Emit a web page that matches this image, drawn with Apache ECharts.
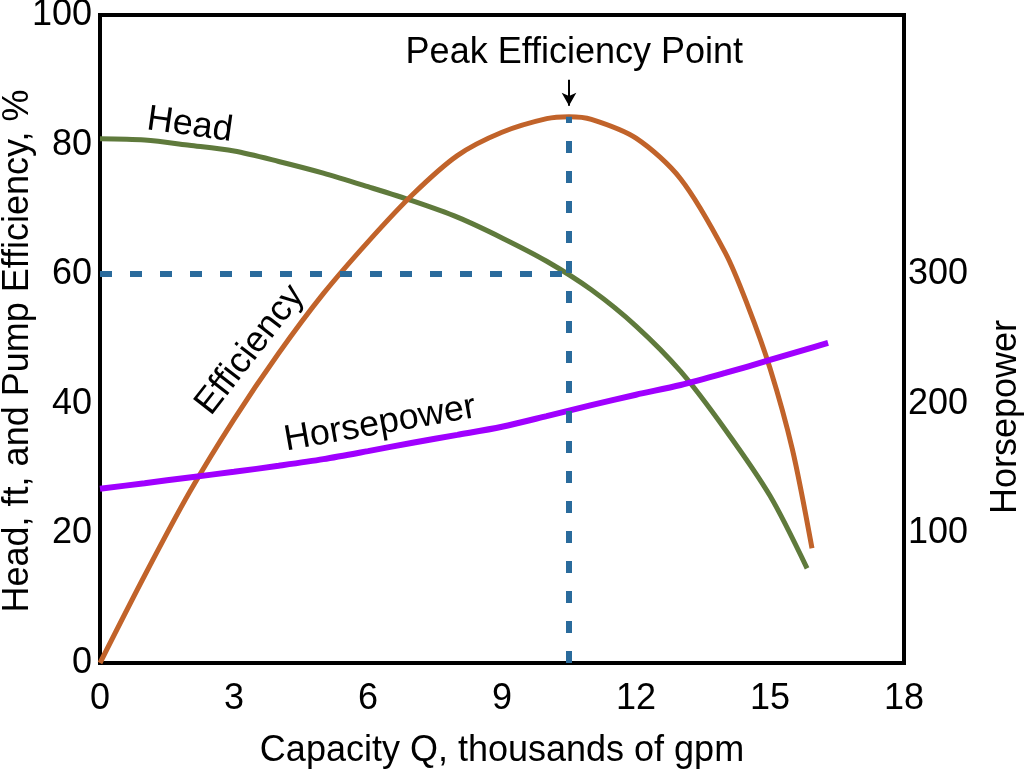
<!DOCTYPE html>
<html>
<head>
<meta charset="utf-8">
<script src="https://cdn.jsdelivr.net/npm/echarts@6/dist/echarts.min.js"></script>
<style>
html,body{margin:0;padding:0;background:#fff;}
#c{width:1024px;height:774px;}
</style>
</head>
<body>
<div id="c"></div>
<script>
// Capacity Q (thousands of gpm) and values
var headQ = [0, 1, 2, 3, 4, 5, 6, 7, 8, 9, 10, 11, 12, 13, 14, 15, 15.83];
var headFt = [80.9, 80.7, 79.9, 79.0, 77.4, 75.6, 73.5, 71.3, 68.8, 65.6, 62.0, 57.6, 52.0, 45.0, 36.0, 25.8, 14.6];

var effQ = [0, 1, 2, 3, 4, 5, 6, 7, 8, 9, 10, 10.5, 11, 12, 13, 14, 14.5, 15, 15.5, 15.94];
var effPct = [0, 13.5, 26.3, 37.6, 47.8, 57.0, 65.0, 72.3, 78.3, 81.9, 84.0, 84.3, 83.9, 81.0, 74.7, 63.3, 55.2, 45.5, 33.0, 17.7];

var hpQ = [0, 1, 2, 3, 4, 5, 6, 7, 8, 9, 10, 11, 12, 13, 14, 15, 16, 16.3];
var hpVal = [134.5, 138.7, 143.2, 147.5, 152.2, 157.3, 163.5, 170, 176, 182.3, 190.5, 199, 207, 214.5, 223.8, 233.8, 244, 247];

var xTicks = [0, 3, 6, 9, 12, 15, 18];
var leftTicks = [0, 20, 40, 60, 80, 100];
var rightTicks = [100, 200, 300];

var peakQ = 10.5, peakEff = 84.3, peakHead = 60;

function pairs(xs, ys) { return xs.map(function (x, i) { return [x, ys[i]]; }); }

var FONT = "'Liberation Sans', Arial, sans-serif";
var FS = 36;

var chart = echarts.init(document.getElementById('c'), null, {renderer: 'canvas'});
chart.setOption({
  animation: false,
  backgroundColor: '#fff',
  textStyle: {fontFamily: FONT},
  grid: {left: 100, right: 120, top: 15, bottom: 111, containLabel: false, outerBoundsMode: 'none',
    show: true, borderColor: '#000', borderWidth: 4, backgroundColor: 'transparent'},
  xAxis: {
    type: 'value', min: xTicks[0], max: xTicks[xTicks.length - 1], interval: 3,
    name: 'Capacity Q, thousands of gpm', nameLocation: 'middle', nameGap: 70, nameMoveOverlap: false,
    nameTextStyle: {fontSize: FS, color: '#000', fontFamily: FONT},
    axisLine: {show: false}, axisTick: {show: false}, splitLine: {show: false},
    axisLabel: {fontSize: FS, color: '#000', margin: 18, fontFamily: FONT}
  },
  yAxis: [{
    type: 'value', min: leftTicks[0], max: leftTicks[leftTicks.length - 1], interval: 20,
    name: 'Head, ft, and Pump Efficiency, %', nameLocation: 'middle', nameGap: 64, nameMoveOverlap: false,
    nameTextStyle: {fontSize: FS, color: '#000', fontFamily: FONT, lineHeight: 36, padding: [0, 24, 0, 0]},
    axisLine: {show: false}, axisTick: {show: false}, splitLine: {show: false},
    axisLabel: {fontSize: FS, color: '#000', margin: 8, fontFamily: FONT}
  }, {
    type: 'value', min: 0, max: 500, interval: 100, position: 'right',
    axisLine: {show: false}, axisTick: {show: false}, splitLine: {show: false},
    axisLabel: {fontSize: FS, color: '#000', margin: 4, fontFamily: FONT,
      formatter: function (v) { return rightTicks.indexOf(v) >= 0 ? String(v) : ''; }}
  }],
  graphic: [{
    type: 'text', x: 1006, y: 417, rotation: Math.PI / 2,
    style: {text: 'Horsepower', font: FS + 'px ' + FONT, fill: '#000', align: 'center', verticalAlign: 'middle'}
  }],
  series: [{
    name: 'Head', type: 'line', smooth: 0.3, symbol: 'none', yAxisIndex: 0,
    data: pairs(headQ, headFt),
    lineStyle: {color: '#5f7a3c', width: 5},
    markPoint: {
      symbol: 'circle', symbolSize: 0, silent: true,
      data: [{coord: [2.01, 83.0], label: {show: true, position: 'inside', formatter: 'Head', rotate: -8, fontSize: FS, color: '#000', fontFamily: FONT}}]
    }
  }, {
    name: 'Efficiency', type: 'line', smooth: 0.3, symbol: 'none', yAxisIndex: 0,
    data: pairs(effQ, effPct),
    lineStyle: {color: '#c1632a', width: 5},
    markPoint: {
      symbol: 'circle', symbolSize: 0, silent: true,
      data: [
        {coord: [3.36, 48.3], label: {show: true, position: 'inside', formatter: 'Efficiency', rotate: 52, fontSize: FS, color: '#000', fontFamily: FONT}},
        {coord: [10.62, 94.1], label: {show: true, position: 'inside', formatter: 'Peak Efficiency Point', fontSize: FS, color: '#000', fontFamily: FONT}},
        {coord: [6.27, 36.9], label: {show: true, position: 'inside', formatter: 'Horsepower', rotate: 10, fontSize: FS, color: '#000', fontFamily: FONT}}
      ]
    },
    markLine: {
      silent: true, symbol: 'none', label: {show: false},
      lineStyle: {color: '#2a6b9c', width: 6, type: [12, 18]},
      data: [
        [{coord: [0, peakHead]}, {coord: [peakQ, peakHead]}],
        [{coord: [peakQ, 0]}, {coord: [peakQ, peakEff]}],
        [{coord: [peakQ, 90.0], symbol: 'none'}, {coord: [peakQ, 86.0], symbol: 'arrow', symbolSize: [11, 13],
          lineStyle: {color: '#000', width: 2, type: 'solid'}}]
      ]
    }
  }, {
    name: 'Horsepower', type: 'line', smooth: 0.3, symbol: 'none', yAxisIndex: 1,
    data: pairs(hpQ, hpVal),
    lineStyle: {color: '#a000ff', width: 6}
  }]
});
</script>
</body>
</html>
